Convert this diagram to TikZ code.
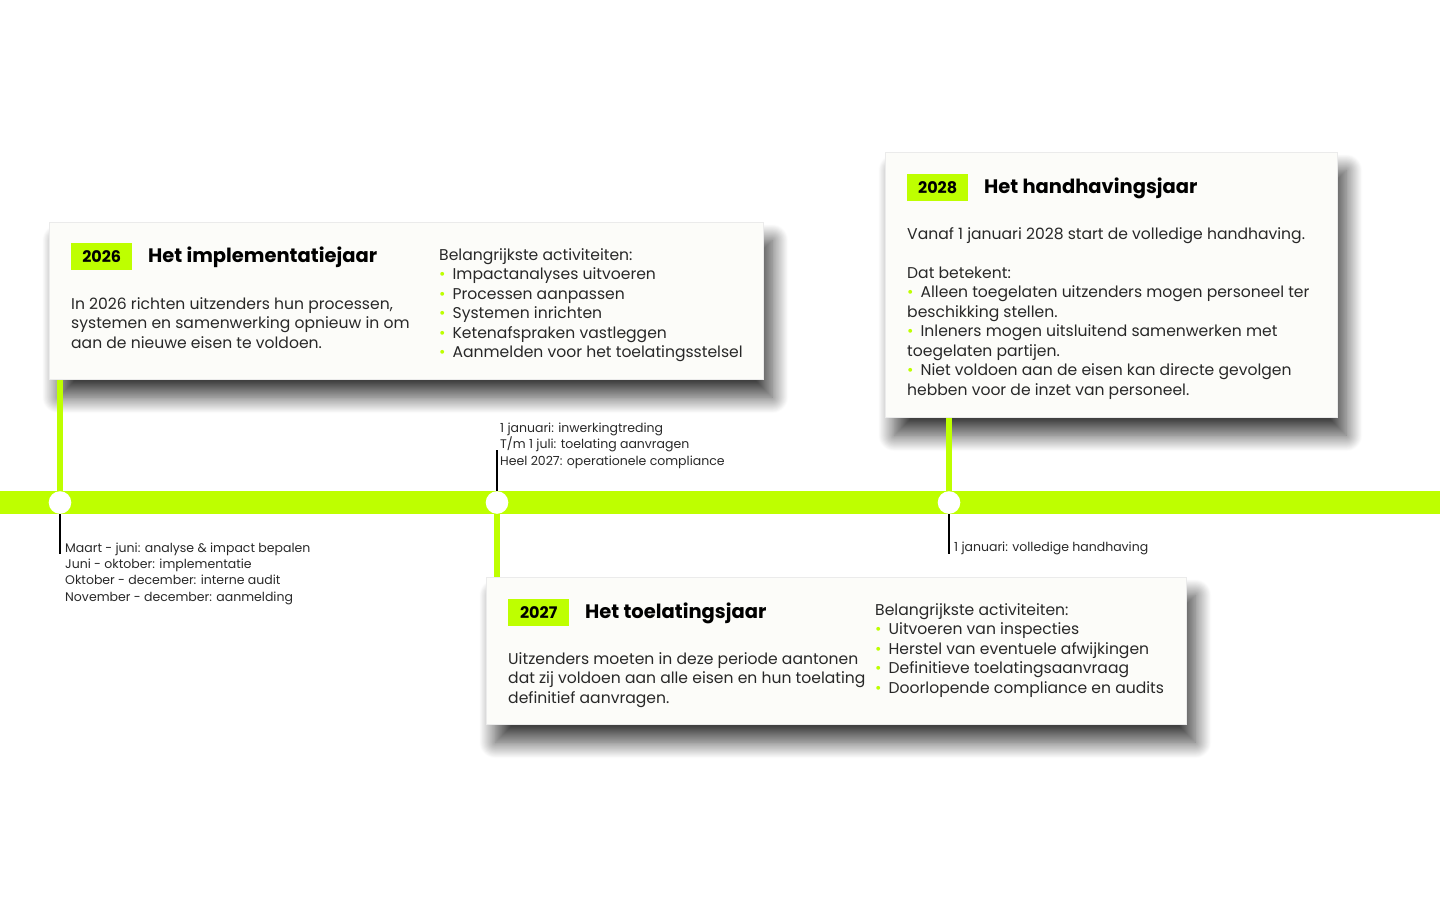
\documentclass[tikz,border=0pt]{standalone}
\usepackage{fontspec}
\setmainfont{Poppins}
\usetikzlibrary{shadows.blur}
\definecolor{lime}{RGB}{190,255,0}
\definecolor{paper}{RGB}{252,252,249}
\definecolor{ink}{RGB}{40,40,40}
\newcommand{\bul}{{\color{lime}\textbullet}\hspace{7pt}}

\tikzset{
  card/.style={fill=paper, draw=black!8, line width=0.6pt, anchor=north west, inner sep=0pt,
    blur shadow={shadow xshift=9pt, shadow yshift=-18pt, shadow blur radius=16pt, shadow blur steps=24, shadow opacity=75}},
  badge/.style={fill=lime, anchor=north west, inner sep=0pt, minimum width=61pt, minimum height=27pt,
    font=\bfseries\fontsize{16}{18}\selectfont},
  heading/.style={anchor=base west, inner sep=0pt, font=\bfseries\fontsize{19.5}{21}\selectfont},
  body/.style={anchor=base west, align=left, inner sep=0pt, text=ink, font=\fontsize{15.6}{19.5}\selectfont},
  note/.style={anchor=base west, align=left, inner sep=0pt, text=ink, font=\fontsize{12.5}{16.3}\selectfont},
  dot/.style={circle, fill=white, inner sep=0pt, minimum size=22.6pt},
  stem/.style={draw=lime, line width=6pt},
  tick/.style={draw=black, line width=1.3pt},
}

\begin{document}
\begin{tikzpicture}[x=1pt, y=-1pt]
\useasboundingbox (0,0) rectangle (1440,900);

% timeline
\fill[lime] (0,491) rectangle (1440,514);

% cards
\node[card, minimum width=714pt, minimum height=157pt] (card26) at (49,222) {};
\node[card, minimum width=700pt, minimum height=147pt] (card27) at (486,577) {};
\node[card, minimum width=452pt, minimum height=265pt] (card28) at (885,152) {};

% dots
\node[dot] (dot26) at (60,502.5) {};
\node[dot] (dot27) at (497,502.5) {};
\node[dot] (dot28) at (949,502.5) {};

% stems
\draw[stem] (dot26.north) -- (dot26 |- card26.south);
\draw[stem] (dot27.south) -- (dot27 |- card27.north);
\draw[stem] (dot28.north) -- (dot28 |- card28.south);

% ticks
\coordinate (t26) at (60,554);
\coordinate (t27) at (497,450);
\coordinate (t28) at (949,554);
\draw[tick] (dot26.south) -- (t26);
\draw[tick] (dot27.north) -- (t27);
\draw[tick] (dot28.south) -- (t28);

% notes (anchored on their last line)
\node[note] (n26) at (65,601) {Maart - juni: analyse \& impact bepalen\\Juni - oktober: implementatie\\Oktober - december: interne audit\\November - december: aanmelding};
\node[note] (n27) at (500,465) {1 januari: inwerkingtreding\\T/m 1 juli: toelating aanvragen\\Heel 2027: operationele compliance};
\node[note] (n28) at (954,551) {1 januari: volledige handhaving};

% 2026
\node[badge] (y26) at (71,243) {2026};
\node[heading] (h26) at (148,262) {Het implementatiejaar};
\node[body] (p26) at (71,348) {In 2026 richten uitzenders hun processen,\\systemen en samenwerking opnieuw in om\\aan de nieuwe eisen te voldoen.};
\node[body] (a26) at (439,357.5) {Belangrijkste activiteiten:\\\bul Impactanalyses uitvoeren\\\bul Processen aanpassen\\\bul Systemen inrichten\\\bul Ketenafspraken vastleggen\\\bul Aanmelden voor het toelatingsstelsel};

% 2027
\node[badge] (y27) at (508,599) {2027};
\node[heading] (h27) at (585,618) {Het toelatingsjaar};
\node[body] (p27) at (508,703) {Uitzenders moeten in deze periode aantonen\\dat zij voldoen aan alle eisen en hun toelating\\definitief aanvragen.};
\node[body] (a27) at (875,693) {Belangrijkste activiteiten:\\\bul Uitvoeren van inspecties\\\bul Herstel van eventuele afwijkingen\\\bul Definitieve toelatingsaanvraag\\\bul Doorlopende compliance en audits};

% 2028
\node[badge] (y28) at (907,174) {2028};
\node[heading] (h28) at (984,193) {Het handhavingsjaar};
\node[body] (p28) at (907,395) {Vanaf 1 januari 2028 start de volledige handhaving.\\[19.5pt]Dat betekent:\\\bul Alleen toegelaten uitzenders mogen personeel ter\\beschikking stellen.\\\bul Inleners mogen uitsluitend samenwerken met\\toegelaten partijen.\\\bul Niet voldoen aan de eisen kan directe gevolgen\\hebben voor de inzet van personeel.};
\end{tikzpicture}
\end{document}
